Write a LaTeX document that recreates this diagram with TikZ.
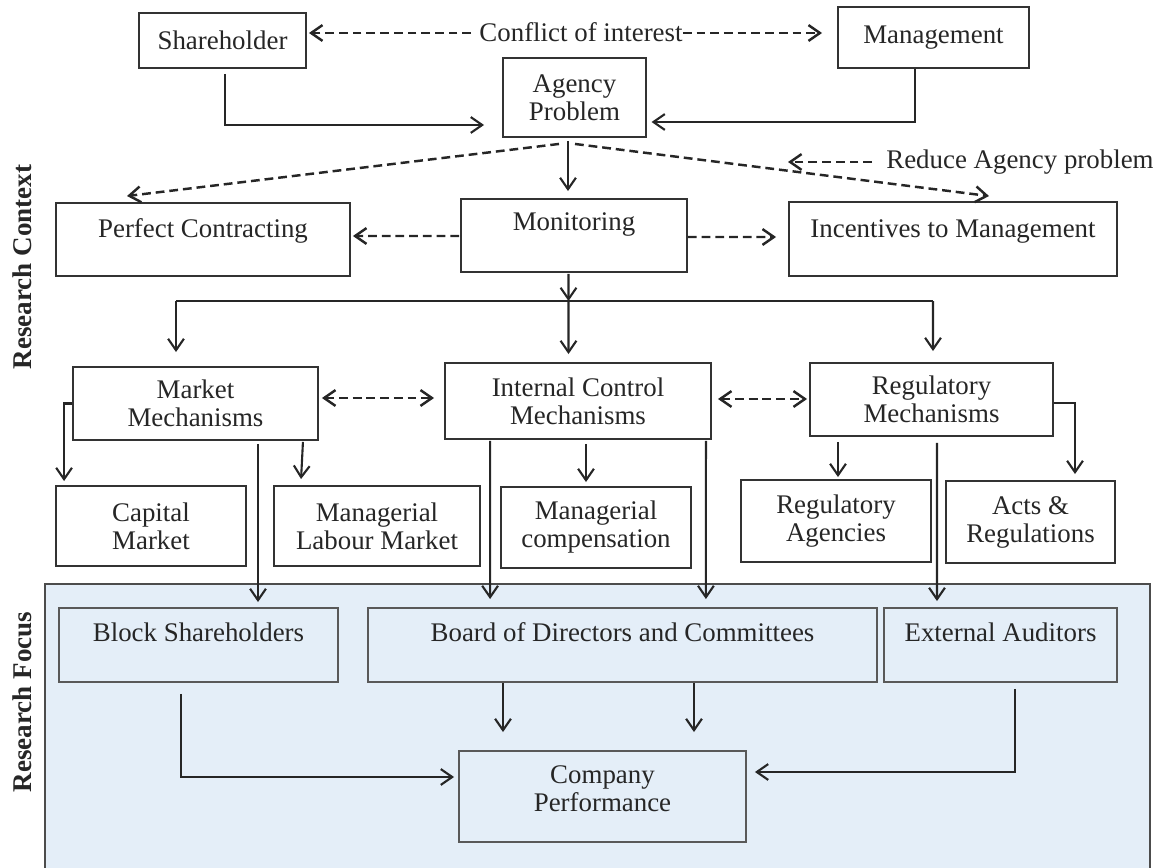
\documentclass[tikz,border=0pt]{standalone}
\usepackage{fontspec}
\setmainfont{Liberation Serif}
\usetikzlibrary{arrows.meta}
\definecolor{focusblue}{RGB}{228,238,248}

\begin{document}
\begin{tikzpicture}[
  x=0.02cm, y=-0.02cm,
  font=\fontsize{15.3}{15.9}\selectfont,
  every node/.style={inner sep=0pt, align=center, text=black!85},
  box/.style={draw=black!80, line width=1.1pt, fill=white},
  focusbox/.style={draw=black!65, line width=1.1pt, fill=focusblue},
  arr/.style={draw=black!85, line width=1.2pt, -{Straight Barb[length=6.5pt,width=9pt]}},
  dasharr/.style={arr, line width=1.4pt, dash pattern=on 5pt off 2.8pt},
  dblarr/.style={dasharr, {Straight Barb[length=6.5pt,width=9pt]}-{Straight Barb[length=6.5pt,width=9pt]}},
  sidelabel/.style={rotate=90, font=\fontsize{15.4}{16}\selectfont\bfseries}
]
\useasboundingbox (0,0) rectangle (1163,868);
\fill[focusblue] (45,584) rectangle (1150,870);
\draw[black!70, line width=1.1pt] (45,870) -- (45,584) -- (1150,584) -- (1150,870);

\node[sidelabel] (ctx) at (22,267) {Research Context};
\node[sidelabel] (foc) at (22,702) {Research Focus};

\node[box, minimum width=3.34cm, minimum height=1.10cm] (sh) at (222.5,40.5) {Shareholder};
\node[box, minimum width=3.82cm, minimum height=1.22cm] (mg) at (933.5,37.5) {Management};
\node (coi) at (581,32) {Conflict of interest};
\node[box, minimum width=2.86cm, minimum height=1.58cm] (ap) at (574.5,97.5) {Agency\\Problem};
\node[anchor=west] (red) at (886,162) {Reduce Agency problem};
\coordinate (redtip) at (788,162);

\node[box, minimum width=5.88cm, text height=0.68cm, text depth=0.78cm] (pc) at (203,239.5) {Perfect Contracting};
\node[box, minimum width=4.52cm, text height=0.62cm, text depth=0.84cm] (mon) at (574,235.5) {Monitoring};
\node[box, minimum width=6.56cm, text height=0.70cm, text depth=0.78cm] (inc) at (953,239) {Incentives to Management};

\coordinate (bar) at (568.5,301);
\coordinate (barL) at (176,301);
\coordinate (barR) at (933,301);

\node[box, minimum width=4.90cm, minimum height=1.46cm] (mm) at (195.5,403.5) {Market\\Mechanisms};
\node[box, minimum width=5.32cm, minimum height=1.52cm] (icm) at (578,401) {Internal Control\\Mechanisms};
\node[box, minimum width=4.86cm, minimum height=1.46cm] (rm) at (931.5,399.5) {Regulatory\\Mechanisms};

\node[box, minimum width=3.80cm, minimum height=1.60cm] (cap) at (151,526) {Capital\\Market};
\node[box, minimum width=4.12cm, minimum height=1.60cm] (mlm) at (377,526) {Managerial\\Labour Market};
\node[box, minimum width=3.80cm, minimum height=1.62cm] (mc) at (596,527.5) {Managerial\\compensation};
\node[box, minimum width=3.80cm, minimum height=1.64cm] (ra) at (836,521) {Regulatory\\Agencies};
\node[box, minimum width=3.38cm, minimum height=1.64cm] (ar) at (1030.5,522) {Acts \&\\Regulations};

\node[focusbox, minimum width=5.58cm, text height=0.66cm, text depth=0.82cm] (bs) at (198.5,645) {Block Shareholders};
\node[focusbox, minimum width=10.18cm, text height=0.66cm, text depth=0.82cm] (bd) at (622.5,645) {Board of Directors and Committees};
\node[focusbox, minimum width=4.66cm, text height=0.66cm, text depth=0.82cm] (ea) at (1000.5,645) {External Auditors};
\node[focusbox, minimum width=5.74cm, text height=1.20cm, text depth=0.62cm] (cp) at (602.5,796.5) {Company\\Performance};

\draw[dasharr] ([shift={(-8,1)}]coi.west) -- ([shift={(2,-7.5)}]sh.east);
\draw[dasharr] ([shift={(0,1)}]coi.east) -- ([shift={(-15,-4.5)}]mg.west);
\draw[arr] ([shift={(2.5,5)}]sh.south) |- ([shift={(-18,27.5)}]ap.west);
\draw[arr] ([shift={(-18.5,0)}]mg.south) |- ([shift={(4.6,24.5)}]ap.east);
\draw[arr] ([shift={(-6.5,3)}]ap.south) -- ([shift={(-6,-7)}]mon.north);
\draw[dasharr] ([shift={(-15.5,6)}]ap.south) -- ([shift={(-76,-6)}]pc.north);
\draw[dasharr] ([shift={(0.5,6)}]ap.south) -- ([shift={(36,-5)}]inc.north);
\draw[dasharr] ([shift={(-14,0)}]red.west) -- (redtip);
\draw[dasharr] ([shift={(-1,0.5)}]mon.west) -- ([shift={(2,-3.5)}]pc.east);
\draw[dasharr] ([shift={(0,1.5)}]mon.east) -- ([shift={(-12,-2)}]inc.west);

\draw[arr] ([shift={(-5.5,1)}]mon.south) -- (bar);
\draw[black!85, line width=0.6pt] (barL) -- (barR);
\draw[arr] (barL) -- ([shift={(-19.5,-14)}]mm.north);
\draw[arr] (bar) -- ([shift={(-9.5,-8)}]icm.north);
\draw[arr] (barR) -- ([shift={(1.5,-11)}]rm.north);

\draw[dblarr] ([shift={(3,-5.5)}]mm.east) -- ([shift={(-10,-3)}]icm.west);
\draw[dblarr] ([shift={(6,-2)}]icm.east) -- ([shift={(-2,-0.5)}]rm.west);

\draw[arr] (mm.west) -| ([shift={(9,-4)}]cap.north west);
\draw[arr] ([shift={(-16,1)}]mm.south east) -- ([shift={(28,-6)}]mlm.north west);
\draw[arr] ([shift={(62.5,3)}]mm.south) -- ([shift={(59.5,-5)}]bs.north);
\draw[arr] ([shift={(46,1)}]icm.south west) -- ([shift={(123,-8)}]bd.north west);
\draw[arr] ([shift={(-6,1)}]icm.south east) -- ([shift={(-172,-8)}]bd.north east);
\draw[arr] ([shift={(8,4)}]icm.south) -- ([shift={(-10,-4)}]mc.north);
\draw[arr] ([shift={(-93.5,5)}]rm.south) -- ([shift={(2,-2)}]ra.north);
\draw[arr] ([shift={(0,3.5)}]rm.east) -| ([shift={(44.5,-6)}]ar.north);
\draw[arr] ([shift={(5.5,6)}]rm.south) -- ([shift={(-63.5,-6)}]ea.north);

\draw[arr] ([shift={(-17.5,11)}]bs.south) |- ([shift={(-4,-19.5)}]cp.west);
\draw[arr] ([shift={(-119.5,0)}]bd.south) -- ([shift={(-99.5,-18)}]cp.north);
\draw[arr] ([shift={(71.5,0)}]bd.south) -- ([shift={(91.5,-18)}]cp.north);
\draw[arr] ([shift={(14.5,6)}]ea.south) |- ([shift={(8,-24.5)}]cp.east);
\end{tikzpicture}
\end{document}
